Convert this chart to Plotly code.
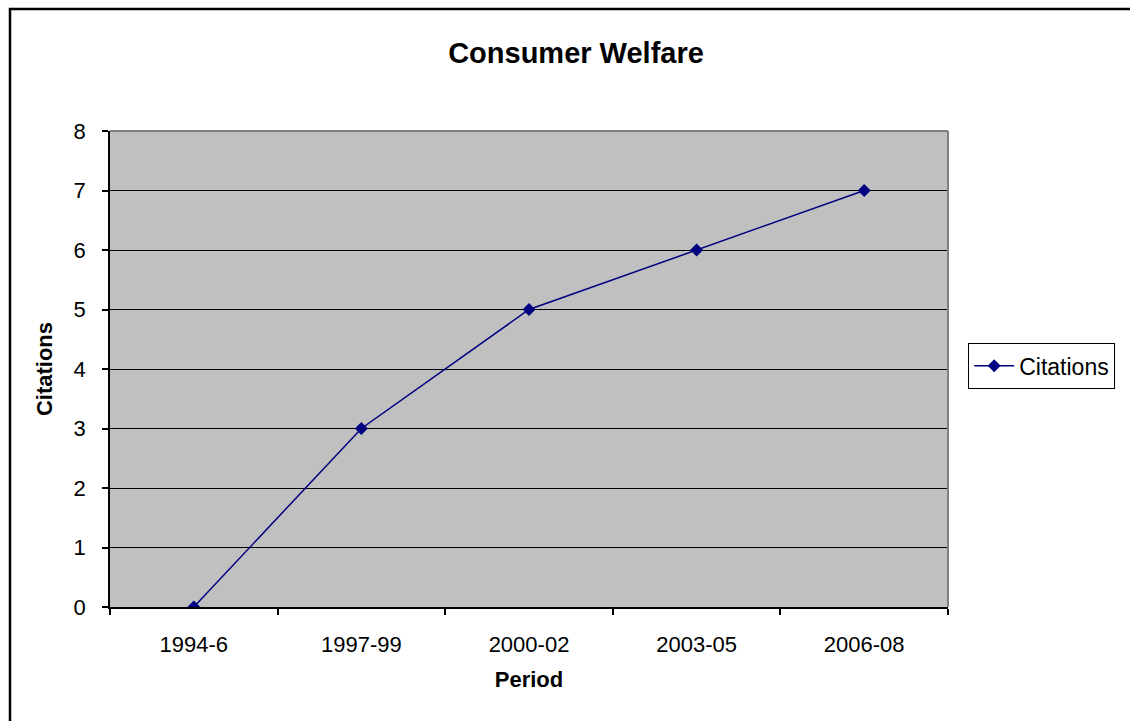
import plotly.graph_objects as go

categories = ["1994-6", "1997-99", "2000-02", "2003-05", "2006-08"]
citations = [0, 3, 5, 6, 7]
y_ticks = [0, 1, 2, 3, 4, 5, 6, 7, 8]

W, H = 1130, 721
L, R, T, B = 110, 948, 131, 607
pw, ph = R - L, B - T

def px_x(x):
    return (x - L) / pw

def px_y(y):
    return (B - y) / ph

FONT = "Liberation Sans, Arial, sans-serif"
NAVY = "#000080"

fig = go.Figure()
fig.add_trace(go.Scatter(
    x=categories, y=citations, mode="lines+markers", name="Citations",
    line=dict(color=NAVY, width=1.5),
    marker=dict(symbol="diamond", size=10, color=NAVY),
))

fig.update_layout(
    width=W, height=H,
    margin=dict(l=L, r=W - R, t=T, b=H - B, pad=0),
    paper_bgcolor="white",
    plot_bgcolor="#C0C0C0",
    font=dict(family=FONT, size=22, color="black"),
    title=dict(text="<b>Consumer Welfare</b>", x=px_x(576), xref="paper",
               xanchor="center", y=1 - 53 / H, yanchor="middle",
               font=dict(size=29, family=FONT, color="black")),
    showlegend=True,
    legend=dict(x=px_x(968), y=px_y(366), xanchor="left", yanchor="middle",
                bordercolor="black", borderwidth=1.2, bgcolor="white",
                font=dict(size=23, family=FONT), tracegroupgap=0,
                itemwidth=40),
    xaxis=dict(
        type="category", tickmode="array", tickvals=categories, ticktext=categories,
        tickson="boundaries", ticks="outside", ticklen=6, tickcolor="black", tickwidth=1.5,
        showline=True, linecolor="black", linewidth=1.5, mirror=False,
        showgrid=False, zeroline=False,
        tickfont=dict(size=22, family=FONT), ticklabelstandoff=17,
        title=dict(text="<b>Period</b>", font=dict(size=22, family=FONT)),
        range=[-0.5, 4.5], automargin=False,
    ),
    yaxis=dict(
        range=[0, 8], tickmode="array", tickvals=y_ticks,
        ticks="outside", ticklen=6, tickcolor="black", tickwidth=1.5,
        showline=True, linecolor="black", linewidth=1.5,
        showgrid=True, gridcolor="black", gridwidth=1, zeroline=False,
        tickfont=dict(size=22, family=FONT), ticklabelstandoff=12,
        title=dict(text="<b>Citations</b>", font=dict(size=22, family=FONT)),
        automargin=False,
    ),
    shapes=[
        dict(type="line", xref="paper", yref="paper", x0=0, x1=1, y0=1, y1=1,
             line=dict(color="#808080", width=2)),
        dict(type="line", xref="paper", yref="paper", x0=1, x1=1, y0=0, y1=1,
             line=dict(color="#808080", width=2)),
        dict(type="rect", xref="paper", yref="paper",
             x0=px_x(10), x1=px_x(1140), y0=px_y(730), y1=px_y(9),
             line=dict(color="black", width=2.5), layer="above"),
    ],
)

fig.write_html("out.html", config={"displayModeBar": False},
               post_script="document.body.style.margin='0';")
